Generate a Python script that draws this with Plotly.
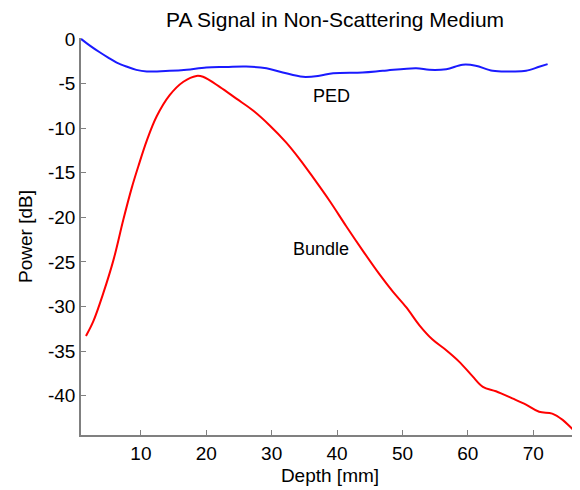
import plotly.graph_objects as go

ped_depth = [0.84, 2.2, 3.7, 5.0, 6.3, 7.8, 9.3, 10.9, 14.4, 17.0, 20.0, 23.0, 26.1, 29.2,
             31.7, 34.8, 37.3, 39.4, 43.9, 47.0, 52.1, 54.1, 56.7, 59.2, 61.2, 63.8, 66.8,
             68.9, 70.9, 72.2]
ped_power = [0.0, -0.75, -1.5, -2.1, -2.65, -3.1, -3.47, -3.65, -3.58, -3.45, -3.2, -3.15,
             -3.1, -3.3, -3.76, -4.25, -4.13, -3.84, -3.76, -3.58, -3.28, -3.47, -3.4, -2.9,
             -3.0, -3.58, -3.65, -3.58, -3.13, -2.83]

bundle_depth = [1.6, 2.7, 4.25, 5.8, 7.3, 8.6, 9.6, 10.9, 12.4, 14.4, 16.5, 18.5, 19.5, 22.1,
                24.6, 27.1, 29.7, 32.2, 34.3, 36.3, 38.9, 41.4, 43.9, 46.5, 48.5, 50.6,
                52.6, 54.6, 56.7, 58.7, 60.7, 62.3, 64.3, 66.8, 68.9, 70.9, 72.9, 74.5,
                75.8, 76.9]
bundle_power = [-33.3, -31.7, -28.5, -24.8, -20.3, -16.7, -14.3, -11.4, -8.7, -6.3, -4.8,
                -4.15, -4.25, -5.4, -6.7, -8.0, -9.7, -11.6, -13.5, -15.5, -18.2, -21.0,
                -23.7, -26.4, -28.3, -30.1, -32.1, -33.7, -34.9, -36.2, -37.8, -39.0, -39.5,
                -40.3, -41.0, -41.8, -42.0, -42.7, -43.6, -44.3]

x_ticks = [10, 20, 30, 40, 50, 60, 70]
y_ticks = [0, -5, -10, -15, -20, -25, -30, -35, -40]
y_tick_text = ["0", "-5", "-10", "-15", "-20", "-25", "-30", "-35", "-40"]

font = "Liberation Sans, Arial, sans-serif"

# The page body has an 8px default margin, so the figure is sized to fit the window.
fig_w, fig_h = 572, 482

fig = go.Figure()
fig.add_trace(go.Scatter(x=ped_depth, y=ped_power, mode="lines", name="PED",
                         line=dict(color="#1a1aff", width=2, shape="spline", smoothing=1.0)))
fig.add_trace(go.Scatter(x=bundle_depth, y=bundle_power, mode="lines", name="Bundle",
                         line=dict(color="#ff0000", width=2, shape="spline", smoothing=1.0)))

fig.add_annotation(x=39.2, y=-6.4, text="PED", showarrow=False,
                   font=dict(family=font, size=18, color="black"))
fig.add_annotation(x=37.6, y=-23.6, text="Bundle", showarrow=False,
                   font=dict(family=font, size=18, color="black"))

fig.update_layout(
    width=fig_w, height=fig_h,
    margin=dict(l=73, r=1, t=30, b=55),
    paper_bgcolor="white", plot_bgcolor="white",
    showlegend=False,
    font=dict(family=font, size=19, color="black"),
    title=dict(text="PA Signal in Non-Scattering Medium", x=327 / fig_w,
               xanchor="center", y=1 - 12 / fig_h, yanchor="middle",
               font=dict(family=font, size=21, color="black")),
    xaxis=dict(range=[0.84, 77], tickvals=x_ticks, ticks="inside", ticklen=5,
               tickcolor="#808080", showline=True, linecolor="#808080", linewidth=1.5,
               showgrid=False, zeroline=False, mirror=False, automargin=False,
               tickfont=dict(size=19),
               title=dict(text="Depth [mm]", standoff=6, font=dict(size=19))),
    yaxis=dict(range=[-44.4, 0.1], tickvals=y_ticks, ticktext=y_tick_text,
               ticks="inside", ticklen=5,
               tickcolor="#808080", showline=True, linecolor="#808080", linewidth=1.5,
               showgrid=False, zeroline=False, mirror=False, automargin=False,
               tickfont=dict(size=19),
               title=dict(text="Power [dB]", standoff=10, font=dict(size=19))),
)

fig.write_html("out.html")
